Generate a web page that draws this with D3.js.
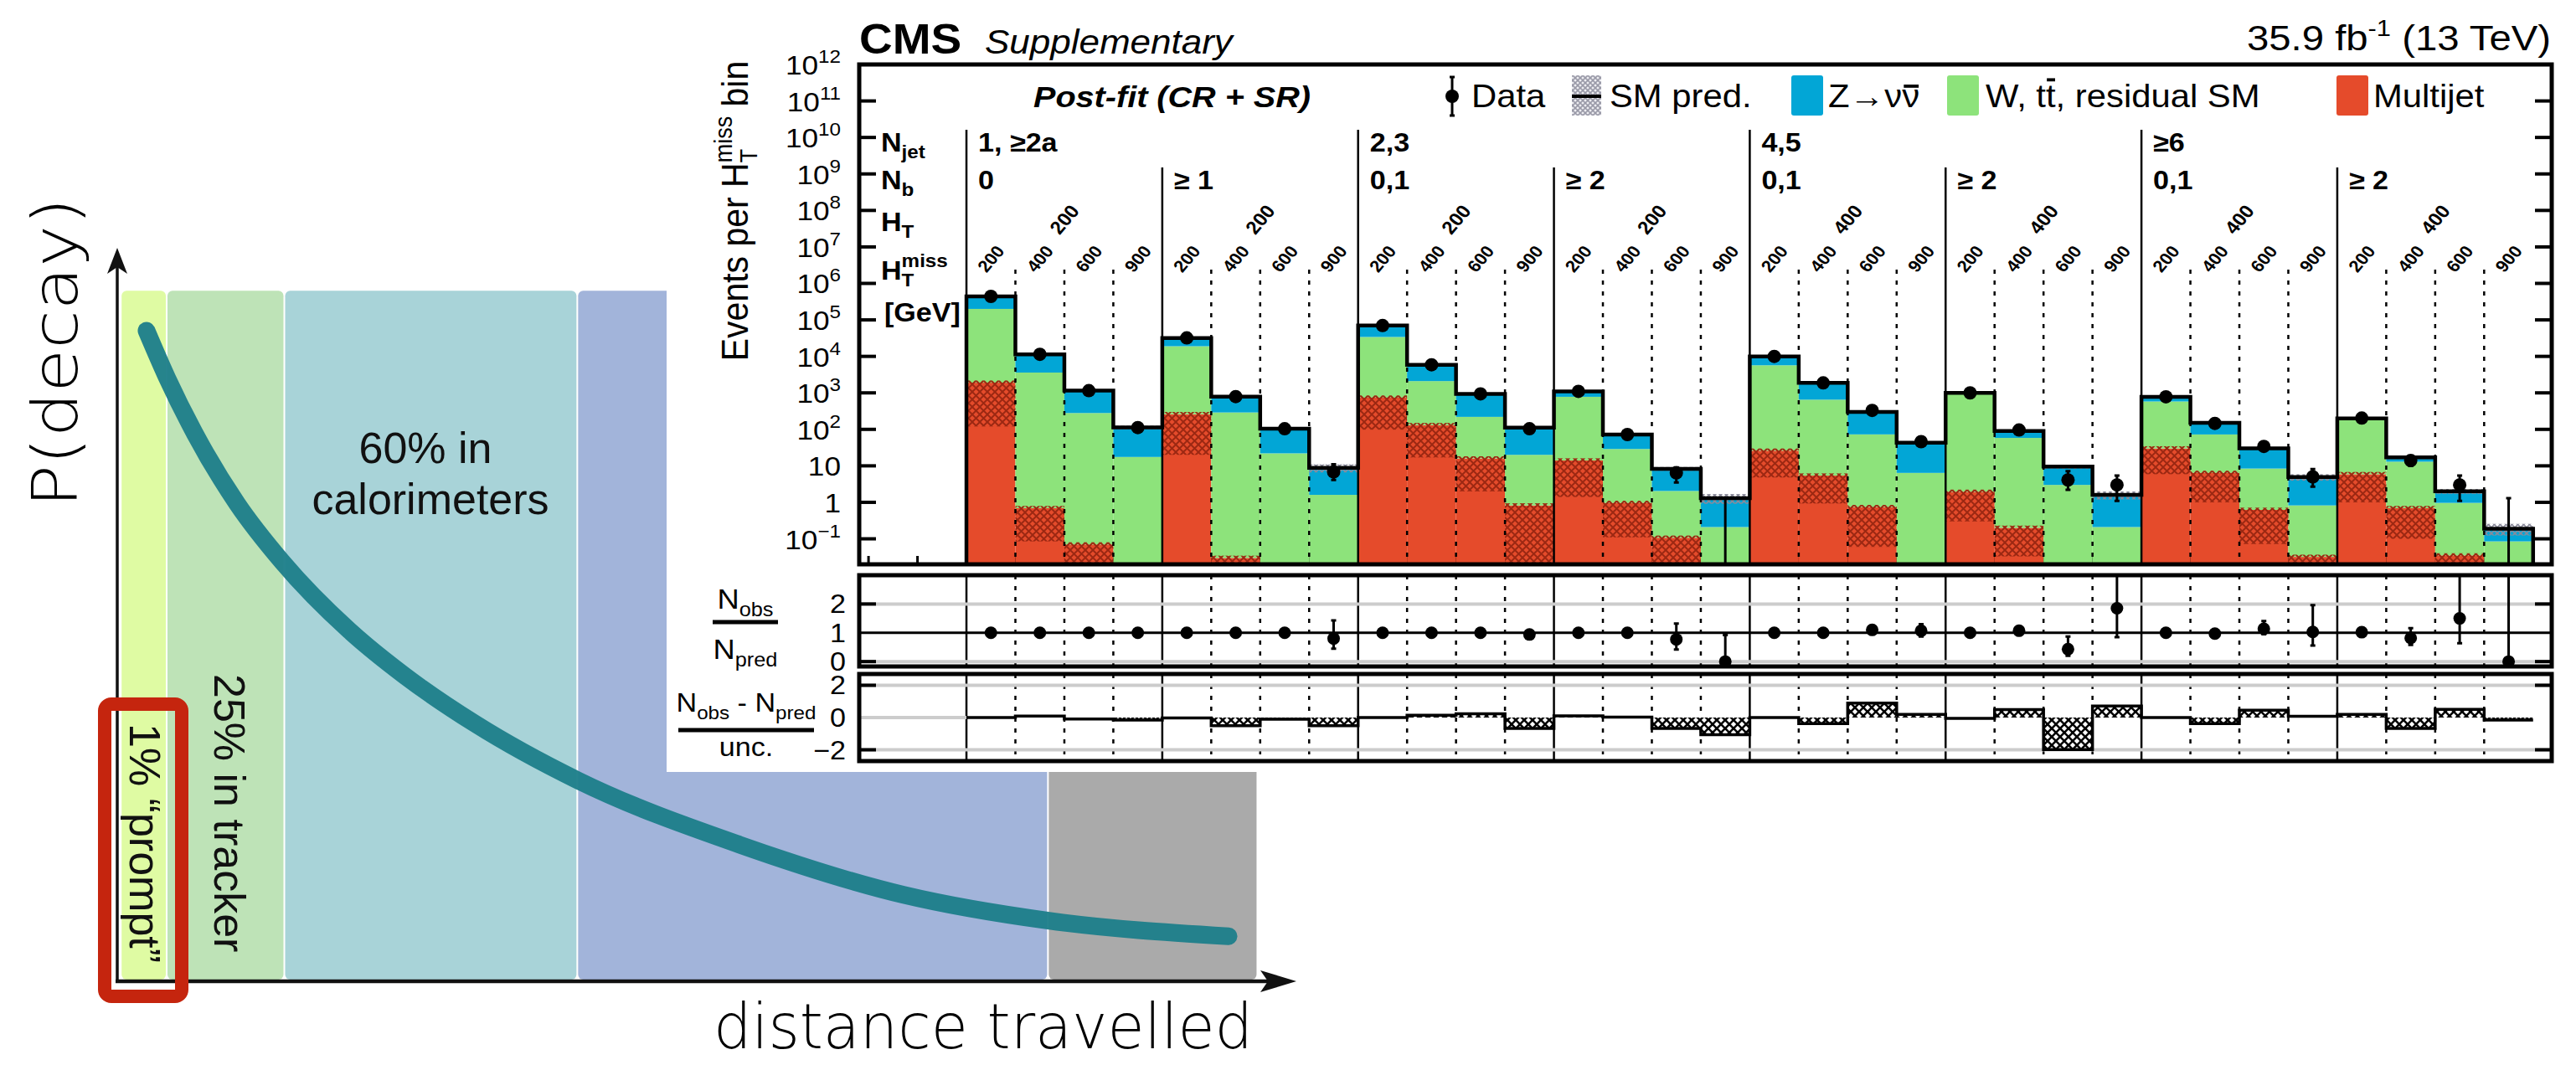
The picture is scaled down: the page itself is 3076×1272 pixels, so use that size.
<!DOCTYPE html>
<html>
<head>
<meta charset="utf-8">
<script src="https://cdn.jsdelivr.net/npm/d3@7"></script>
<style>
  body { margin: 0; background: #fff; }
  svg text { font-family: "Liberation Sans", Arial, Helvetica, sans-serif; }
</style>
</head>
<body>
<div id="chart"></div>
<script>
// ---------------- sketch (left) data ----------------
const zoneEdges = [0.3, 4.2, 14.2, 39.1, 79.1, 96.9];          // distance units
const zoneColors = ["#dffba3", "#bee3b7", "#a8d3d8", "#a2b4da", "#aaaaaa"];
const zoneTop = 0.935;
const curveDist = [2.49, 4.27, 6.62, 10.18, 14.02, 19.72, 24.41, 30.39, 39.15, 52.88, 66.83, 79.15, 94.45];
const curveProb = [0.881, 0.816, 0.741, 0.647, 0.568, 0.475, 0.414, 0.349, 0.272, 0.185, 0.117, 0.082, 0.061];

// ---------------- CMS plot data ----------------
const njetLabels = ["1, \u22652a", "2,3", "4,5", "\u22656"];
const nbLabels = ["0", "\u2265 1", "0,1", "\u2265 2", "0,1", "\u2265 2", "0,1", "\u2265 2"];
const htLabels = ["200", "200", "200", "200", "400", "400", "400", "400"];
const mhtLabels = ["200", "400", "600", "900"];
const logTicks = d3.range(-1, 13);
const ratioTicks = [0, 1, 2];
const pullTicks = [-2, 0, 2];

const multijet = [1900, 0.69, 0.07, 0, 260, 0.03, 0, 0, 740, 130, 15.9, 0.82, 14, 0.96, 0.107, 0,
                  26, 5.4, 0.74, 0, 1.94, 0.2, 0, 0, 30, 6.4, 0.62, 0.032, 5.9, 0.69, 0.035, 0];
const multijetLow = [120, 0.085, 0.02, null, 20, 0.02, null, null, 98, 17, 2.0, 0.02, 1.4, 0.11, 0.02, null,
                     4.8, 0.93, 0.06, null, 0.3, 0.033, null, null, 5.9, 1.0, 0.072, 0.02, 1.0, 0.1, 0.02, null];
const wtt = [198000, 3600, 280, 17.5, 18700, 290, 22, 1.6, 33300, 1970, 204, 19.2, 766, 28, 1.94, 0.21,
             5670, 645, 72, 6.4, 918, 58, 3.0, 0.21, 550, 66, 7.8, 0.79, 174, 12.3, 0.93, 0.085];
const zinv = [240000, 7800, 880, 95, 13000, 500, 82, 7.2, 36000, 3800, 720, 91, 320, 43, 6.25, 1.09,
              4300, 1220, 227, 36.6, 80, 32, 6.5, 1.39, 200, 78, 21.6, 4.08, 20, 4, 1.04, 0.105];
const predUnc = [0.03, 0.03, 0.03, 0.12, 0.03, 0.03, 0.05, 0.25, 0.03, 0.03, 0.04, 0.1, 0.03, 0.05, 0.12, 0.3,
                 0.03, 0.03, 0.04, 0.1, 0.03, 0.05, 0.12, 0.25, 0.03, 0.04, 0.08, 0.2, 0.04, 0.1, 0.15, 0.35];
const observed = [440000, 11400, 1150, 112, 32000, 790, 104, 6.8, 70000, 5900, 940, 104, 1100, 72, 6.4, 0,
                  10000, 1870, 330, 46, 1000, 96, 4.1, 3.0, 780, 146, 34, 5.0, 204, 14, 3.0, 0];
const obsLo = [null, null, null, null, null, null, null, 4.1, null, null, null, null, null, null, 3.5, 0.02,
               null, null, null, null, null, null, 2.2, 1.1, null, null, null, 2.7, null, 10, 1.1, 0.02];
const obsHi = [null, null, null, null, null, null, null, 11, null, null, null, null, null, null, 9.1, 1.3,
               null, null, null, null, null, null, 7.1, 5.4, null, null, null, 8.2, null, 18, 5.4, 1.3];
const ratio = [1, 1, 1, 1, 1, 1, 1, 0.8, 1, 1, 1, 0.94, 1, 1, 0.77, 0,
               1, 1, 1.1, 1.07, 1, 1.07, 0.43, 1.85, 1, 0.97, 1.14, 1.03, 1.02, 0.82, 1.5, 0];
const ratioLo = [null, null, null, null, null, null, null, 0.45, null, null, null, null, null, null, 0.42, 0,
                 null, null, null, 0.87, null, null, 0.2, 0.85, null, null, 0.95, 0.56, null, 0.58, 0.64, 0];
const ratioHi = [null, null, null, null, null, null, null, 1.43, null, null, null, null, null, null, 1.32, 0.92,
                 null, null, null, 1.3, null, null, 0.87, 3.0, null, null, 1.41, 1.96, null, 1.16, 3.0, 3.0];
const pull = [0, 0.09, -0.09, -0.16, -0.03, -0.5, -0.1, -0.5, 0, 0.14, 0.23, -0.68, 0.1, 0.02, -0.68, -1.06,
              0, -0.38, 0.89, 0.2, -0.05, 0.49, -1.98, 0.71, 0, -0.38, 0.45, 0.08, 0.2, -0.68, 0.5, -0.16];

const W = 3076, H = 1272;
const SX = 1.1;   // the CMS figure is a bit wider than tall
const nBins = observed.length;

const svg = d3.select("#chart").append("svg").attr("width", W).attr("height", H);
const defs = svg.append("defs");

function hatch(id, color, sw, size, bg) {
  const p = defs.append("pattern").attr("id", id).attr("patternUnits", "userSpaceOnUse")
    .attr("width", size).attr("height", size);
  if (bg) p.append("rect").attr("width", size).attr("height", size).attr("fill", bg);
  p.append("path").attr("d", `M0,0L${size},${size}M${size},0L0,${size}`)
    .attr("stroke", color).attr("stroke-width", sw).attr("fill", "none");
}
hatch("hRed", "#9c2812", 2, 9);
hatch("hGray", "#8a8a9a", 1.6, 7);
hatch("hPull", "#000", 2.6, 10, "#fff");
hatch("hLeg", "#9a9aa8", 1.6, 6, "#eeeef2");

// text with sub/superscripts, placed with a stretch
function rich(parent, px, py, parts, o = {}) {
  const sx = o.sx === undefined ? SX : o.sx;
  const g = parent.append("g")
    .attr("transform", `translate(${px},${py}) scale(${sx},1)` + (o.rot ? ` rotate(${o.rot})` : ""));
  const inner = g.append("g");
  const size = o.size || 30;
  const t = inner.append("text")
    .attr("font-size", size)
    .attr("font-weight", o.weight || "normal")
    .attr("font-style", o.italic ? "italic" : "normal")
    .attr("fill", o.fill || "#000")
    .style("white-space", "pre");
  let cx = 0, held = 0;
  parts.forEach(p => {
    if (typeof p === "string") p = { s: p };
    const fs = p.size || size;
    const ts = t.append("tspan").attr("x", cx).attr("y", p.dy || 0).attr("font-size", fs).text(p.s);
    if (o.dy) ts.attr("dy", o.dy);
    const w = ts.node().getComputedTextLength();
    if (p.bar) {
      inner.append("line").attr("x1", cx + w * 0.1).attr("x2", cx + w * 0.95)
        .attr("y1", (p.dy || 0) - fs * p.bar).attr("y2", (p.dy || 0) - fs * p.bar)
        .attr("stroke", o.fill || "#000").attr("stroke-width", fs * 0.1);
    }
    if (p.hold) held = Math.max(held, w);
    else { cx += Math.max(w, held); held = 0; }
  });
  if (o.anchor === "end") inner.attr("transform", `translate(${-cx},0)`);
  if (o.anchor === "middle") inner.attr("transform", `translate(${-cx / 2},0)`);
  return g;
}

// ================= left sketch =================
const dx = d3.scaleLinear().domain([0, 100]).range([140, 1545]);
const dy = d3.scaleLinear().domain([0, 1]).range([1172, 290]);
const sketch = svg.append("g");

sketch.selectAll(".zone").data(zoneColors).enter().append("rect")
  .attr("class", "zone")
  .attr("x", (d, i) => dx(zoneEdges[i]) + 1)
  .attr("width", (d, i) => dx(zoneEdges[i + 1]) - dx(zoneEdges[i]) - 2)
  .attr("y", dy(zoneTop))
  .attr("height", dy(0) - dy(zoneTop) - 2)
  .attr("rx", 6)
  .attr("fill", d => d);

sketch.append("path")
  .datum(d3.zip(curveDist, curveProb))
  .attr("d", d3.line().x(d => dx(d[0])).y(d => dy(d[1])).curve(d3.curveMonotoneX))
  .attr("fill", "none").attr("stroke", "#1e7f8a").attr("stroke-width", 21)
  .attr("stroke-linecap", "round").attr("opacity", 0.96);

// axes with arrows
sketch.append("line").attr("x1", dx(0)).attr("x2", dx(0)).attr("y1", dy(0) + 2).attr("y2", 310)
  .attr("stroke", "#111").attr("stroke-width", 3.5);
sketch.append("path").attr("d", "M140,296L128,327L140,319L152,327Z").attr("fill", "#111");
sketch.append("line").attr("x1", dx(0) - 2).attr("x2", 1520).attr("y1", dy(0)).attr("y2", dy(0))
  .attr("stroke", "#111").attr("stroke-width", 4.5);
sketch.append("path").attr("d", "M1548,1172L1505,1159L1514,1172L1505,1185Z").attr("fill", "#111");

rich(sketch, 508, 553, ["60% in"], { sx: 1, size: 52, anchor: "middle", fill: "#111" });
rich(sketch, 514, 614, ["calorimeters"], { sx: 1, size: 52, anchor: "middle", fill: "#111" });
rich(sketch, 256, 805, ["25% in tracker"], { sx: 1, size: 52, rot: 90, fill: "#111" });
rich(sketch, 155, 864, ["1% \u201cprompt\u201d"], { sx: 1, size: 52, rot: 90, fill: "#111" });

sketch.append("rect").attr("x", 125).attr("y", 841).attr("width", 92).attr("height", 349)
  .attr("rx", 8).attr("fill", "none").attr("stroke", "#c5250e").attr("stroke-width", 16);

sketch.append("text").attr("transform", "translate(92,421) rotate(-90)")
  .attr("text-anchor", "middle").attr("font-size", 74).attr("font-weight", 200)
  .style("font-family", "'Comic Sans MS', 'DejaVu Sans', sans-serif")
  .attr("textLength", 370).attr("lengthAdjust", "spacingAndGlyphs")
  .text("P(decay)");
sketch.append("text").attr("x", 852).attr("y", 1252)
  .attr("font-size", 74).attr("font-weight", 200)
  .style("font-family", "'Comic Sans MS', 'DejaVu Sans', sans-serif")
  .attr("textLength", 644).attr("lengthAdjust", "spacingAndGlyphs")
  .text("distance travelled");

// ================= CMS figure =================
const cms = svg.append("g");
cms.append("rect").attr("x", 796).attr("y", 0).attr("width", W - 796).attr("height", 922).attr("fill", "#fff");

const x = d3.scaleLinear().domain([-2.19, 32.38]).range([1026, 3047]);
const yMin = 0.02;
const y = d3.scaleLog().domain([yMin, 1e12]).range([674, 77]).clamp(true);
const yv = v => y(Math.max(v, yMin));
const r1 = d3.scaleLinear().domain([-0.17, 3.0]).range([796, 687]).clamp(true);
const r2 = d3.scaleLinear().domain([-2.7, 2.7]).range([909, 805]).clamp(true);
const panels = [{ top: 77, bottom: 674 }, { top: 687, bottom: 796 }, { top: 805, bottom: 909 }];
const xL = x.range()[0], xR = x.range()[1];

// header
rich(cms, 1026, 64, ["CMS"], { size: 50, weight: "bold" });
rich(cms, 1176, 64, ["Supplementary"], { size: 40, italic: true });
rich(cms, 3046, 60, ["35.9 fb", { s: "-1", size: 28, dy: -17 }, " (13 TeV)"], { size: 43, anchor: "end" });

// x ticks (mostly hidden under the stack)
cms.selectAll(".xt").data(d3.range(-2, 32)).enter().append("line")
  .attr("x1", d => x(d)).attr("x2", d => x(d)).attr("y1", 674).attr("y2", 664)
  .attr("stroke", "#000").attr("stroke-width", 3);

// stacked histogram
const rows = d3.range(nBins).map(i => ({ bin: i, multijet: multijet[i], wtt: wtt[i], zinv: zinv[i] }));
const procColors = { multijet: "#e54b2b", wtt: "#8de37b", zinv: "#02a6d6" };
const stacked = d3.stack().keys(["multijet", "wtt", "zinv"])(rows);
cms.selectAll(".layer").data(stacked).enter().append("g")
  .attr("fill", d => procColors[d.key])
  .selectAll("rect").data(d => d).enter().append("rect")
  .attr("x", d => x(d.data.bin)).attr("width", x(1) - x(0))
  .attr("y", d => yv(d[1])).attr("height", d => Math.max(0, yv(d[0]) - yv(d[1])));

const total = d3.range(nBins).map(i => multijet[i] + wtt[i] + zinv[i]);

// multijet uncertainty
cms.selectAll(".mjunc").data(d3.range(nBins).filter(i => multijetLow[i] !== null)).enter().append("rect")
  .attr("x", i => x(i)).attr("width", x(1) - x(0))
  .attr("y", i => yv(multijet[i] * 1.15)).attr("height", i => yv(multijetLow[i]) - yv(multijet[i] * 1.15))
  .attr("fill", "url(#hRed)");

// SM prediction uncertainty
cms.selectAll(".smunc").data(d3.range(nBins)).enter().append("rect")
  .attr("x", i => x(i)).attr("width", x(1) - x(0))
  .attr("y", i => yv(total[i] * (1 + predUnc[i])))
  .attr("height", i => yv(total[i] * (1 - predUnc[i])) - yv(total[i] * (1 + predUnc[i])))
  .attr("fill", "url(#hGray)");

// separators in all panels
const edges = d3.range(0, nBins);
panels.forEach((p, pi) => {
  cms.selectAll(".sep" + pi).data(edges).enter().append("line")
    .attr("x1", k => x(k)).attr("x2", k => x(k))
    .attr("y1", k => pi > 0 ? p.top : (k % 8 === 0 ? 155 : (k % 4 === 0 ? 200 : 322)))
    .attr("y2", p.bottom)
    .attr("stroke", "#000")
    .attr("stroke-width", 2.5)
    .attr("stroke-dasharray", k => k % 4 === 0 ? null : "5,8");
});

// stack outline
const outline = [[0, yMin]].concat(d3.range(nBins).map(i => [i, total[i]])).concat([[nBins, yMin]]);
cms.append("path").datum(outline)
  .attr("d", d3.line().x(d => x(d[0])).y(d => yv(d[1])).curve(d3.curveStepAfter))
  .attr("fill", "none").attr("stroke", "#000").attr("stroke-width", 4.5);

// data points
function errBars(sel, idx, xf, lo, hi, cap) {
  sel.selectAll(null).data(idx).enter().append("path")
    .attr("d", i => `M${xf(i)},${lo(i)}V${hi(i)}M${xf(i) - cap},${lo(i)}H${xf(i) + cap}M${xf(i) - cap},${hi(i)}H${xf(i) + cap}`)
    .attr("stroke", "#000").attr("stroke-width", 3).attr("fill", "none");
}
const xc = i => x(i + 0.5);
errBars(cms, d3.range(nBins).filter(i => obsHi[i] !== null), xc, i => yv(obsLo[i]), i => yv(obsHi[i]), 3);
cms.selectAll(".obs").data(d3.range(nBins).filter(i => observed[i] > 0)).enter().append("circle")
  .attr("cx", xc).attr("cy", i => yv(observed[i])).attr("r", 8).attr("fill", "#000");

// ratio panel
[[0, "#cccccc", 4], [2, "#cccccc", 4], [1, "#000", 3]].forEach(([v, c, w]) => {
  cms.append("line").attr("x1", xL).attr("x2", xR).attr("y1", r1(v)).attr("y2", r1(v))
    .attr("stroke", c).attr("stroke-width", w);
});
errBars(cms, d3.range(nBins).filter(i => ratioHi[i] !== null), xc, i => r1(ratioLo[i]), i => r1(ratioHi[i]), 3);
cms.selectAll(".rat").data(d3.range(nBins)).enter().append("circle")
  .attr("cx", xc).attr("cy", i => r1(ratio[i])).attr("r", 7.5).attr("fill", "#000");

// pull panel
[-2, 2].forEach(v => {
  cms.append("line").attr("x1", xL).attr("x2", xR).attr("y1", r2(v)).attr("y2", r2(v))
    .attr("stroke", "#cccccc").attr("stroke-width", 4);
});
cms.append("line").attr("x1", xL).attr("x2", x(0)).attr("y1", r2(0)).attr("y2", r2(0))
  .attr("stroke", "#cccccc").attr("stroke-width", 4);
cms.selectAll(".pullbox").data(d3.range(nBins)).enter().append("rect")
  .attr("x", i => x(i)).attr("width", x(1) - x(0))
  .attr("y", i => Math.min(r2(0), r2(pull[i])))
  .attr("height", i => Math.abs(r2(0) - r2(pull[i])))
  .attr("fill", "url(#hPull)");
const pullLine = d3.range(nBins).map(i => [i, pull[i]]).concat([[nBins, pull[nBins - 1]]]);
cms.append("path").datum(pullLine)
  .attr("d", d3.line().x(d => x(d[0])).y(d => r2(d[1])).curve(d3.curveStepAfter))
  .attr("fill", "none").attr("stroke", "#000").attr("stroke-width", 3.5);

// frames and y ticks
panels.forEach(p => {
  cms.append("rect").attr("x", xL).attr("y", p.top).attr("width", xR - xL).attr("height", p.bottom - p.top)
    .attr("fill", "none").attr("stroke", "#000").attr("stroke-width", 5);
});
const tickSets = [
  [logTicks.filter(e => e < 12).map(e => y(Math.pow(10, e))), 20],
  [[r1(0), r1(2)], 20],
  [[r2(-2), r2(2)], 20]
];
tickSets.forEach(([ys, len]) => {
  ys.forEach(yy => {
    cms.append("line").attr("x1", xL).attr("x2", xL + len).attr("y1", yy).attr("y2", yy)
      .attr("stroke", "#000").attr("stroke-width", 4);
    cms.append("line").attr("x1", xR - len).attr("x2", xR).attr("y1", yy).attr("y2", yy)
      .attr("stroke", "#000").attr("stroke-width", 4);
  });
});

// y tick labels
logTicks.forEach(e => {
  const parts = e === 0 ? ["1"] : e === 1 ? ["10"] :
    ["10", { s: e < 0 ? "\u2212" + (-e) : String(e), size: 22, dy: -14 }];
  rich(cms, 1004, y(Math.pow(10, e)) + 12, parts, { size: 32, anchor: "end" });
});
ratioTicks.forEach(v => rich(cms, 1010, r1(v) + 11, [String(v)], { size: 31, anchor: "end" }));
pullTicks.forEach(v => rich(cms, 1010, r2(v) + 11, [v < 0 ? "\u2212" + (-v) : String(v)], { size: 31, anchor: "end" }));

// axis titles
rich(cms, 893, 252, ["Events per H", { s: "miss", size: 27, dy: -17, hold: true }, { s: "T", size: 27, dy: 10 }, " bin"],
  { size: 41, rot: -90, anchor: "middle" });
rich(cms, 890, 727, ["N", { s: "obs", size: 23, dy: 9 }], { size: 33, anchor: "middle" });
cms.append("line").attr("x1", 851).attr("x2", 929).attr("y1", 743).attr("y2", 743).attr("stroke", "#000").attr("stroke-width", 5);
rich(cms, 890, 787, ["N", { s: "pred", size: 23, dy: 9 }], { size: 33, anchor: "middle" });
rich(cms, 891, 850, ["N", { s: "obs", size: 22, dy: 9 }, " - N", { s: "pred", size: 22, dy: 9 }], { size: 31, anchor: "middle" });
cms.append("line").attr("x1", 810).attr("x2", 972).attr("y1", 872).attr("y2", 872).attr("stroke", "#000").attr("stroke-width", 5);
rich(cms, 891, 903, ["unc."], { size: 31, anchor: "middle" });

// bin description rows
const lab = { size: 31, weight: "bold" };
rich(cms, 1052, 181, ["N", { s: "jet", size: 22, dy: 8 }], lab);
rich(cms, 1052, 226, ["N", { s: "b", size: 22, dy: 8 }], lab);
rich(cms, 1052, 276, ["H", { s: "T", size: 22, dy: 8 }], lab);
rich(cms, 1052, 334, ["H", { s: "miss", size: 22, dy: -15, hold: true }, { s: "T", size: 22, dy: 8 }], lab);
rich(cms, 1056, 384, ["[GeV]"], lab);

njetLabels.forEach((s, g) => rich(cms, x(g * 8) + 14, 181, [s], lab));
nbLabels.forEach((s, g) => rich(cms, x(g * 4) + 14, 226, [s], lab));
htLabels.forEach((s, g) => rich(cms, x(g * 4 + 2), 262, [s], { size: 22, weight: "bold", rot: -52, anchor: "middle", dy: "0.35em" }));
d3.range(nBins).forEach(i => rich(cms, xc(i), 309, [mhtLabels[i % 4]], { size: 20, weight: "bold", rot: -52, anchor: "middle", dy: "0.35em" }));

// legend
rich(cms, 1234, 128, ["Post-fit (CR + SR)"], { size: 36, weight: "bold", italic: true });
cms.append("path").attr("d", "M1734,92V138M1731,92H1737M1731,138H1737").attr("stroke", "#000").attr("stroke-width", 3);
cms.append("circle").attr("cx", 1734).attr("cy", 115).attr("r", 8).attr("fill", "#000");
rich(cms, 1757, 128, ["Data"], { size: 38 });
cms.append("rect").attr("x", 1877).attr("y", 90).attr("width", 35).attr("height", 48).attr("fill", "url(#hLeg)");
cms.append("line").attr("x1", 1877).attr("x2", 1912).attr("y1", 115).attr("y2", 115).attr("stroke", "#000").attr("stroke-width", 4);
rich(cms, 1922, 128, ["SM pred."], { size: 38 });
const legBoxes = [[2139, "zinv"], [2325, "wtt"], [2790, "multijet"]];
legBoxes.forEach(([lx, k]) => {
  cms.append("rect").attr("x", lx).attr("y", 90).attr("width", 38).attr("height", 48).attr("rx", 3)
    .attr("fill", procColors[k]);
});
rich(cms, 2183, 128, ["Z\u2192\u03bd", { s: "\u03bd", bar: 0.66 }], { size: 38 });
rich(cms, 2371, 128, ["W, t", { s: "t", bar: 0.86 }, ", residual SM"], { size: 38 });
rich(cms, 2834, 128, ["Multijet"], { size: 38 });
</script>
</body>
</html>
